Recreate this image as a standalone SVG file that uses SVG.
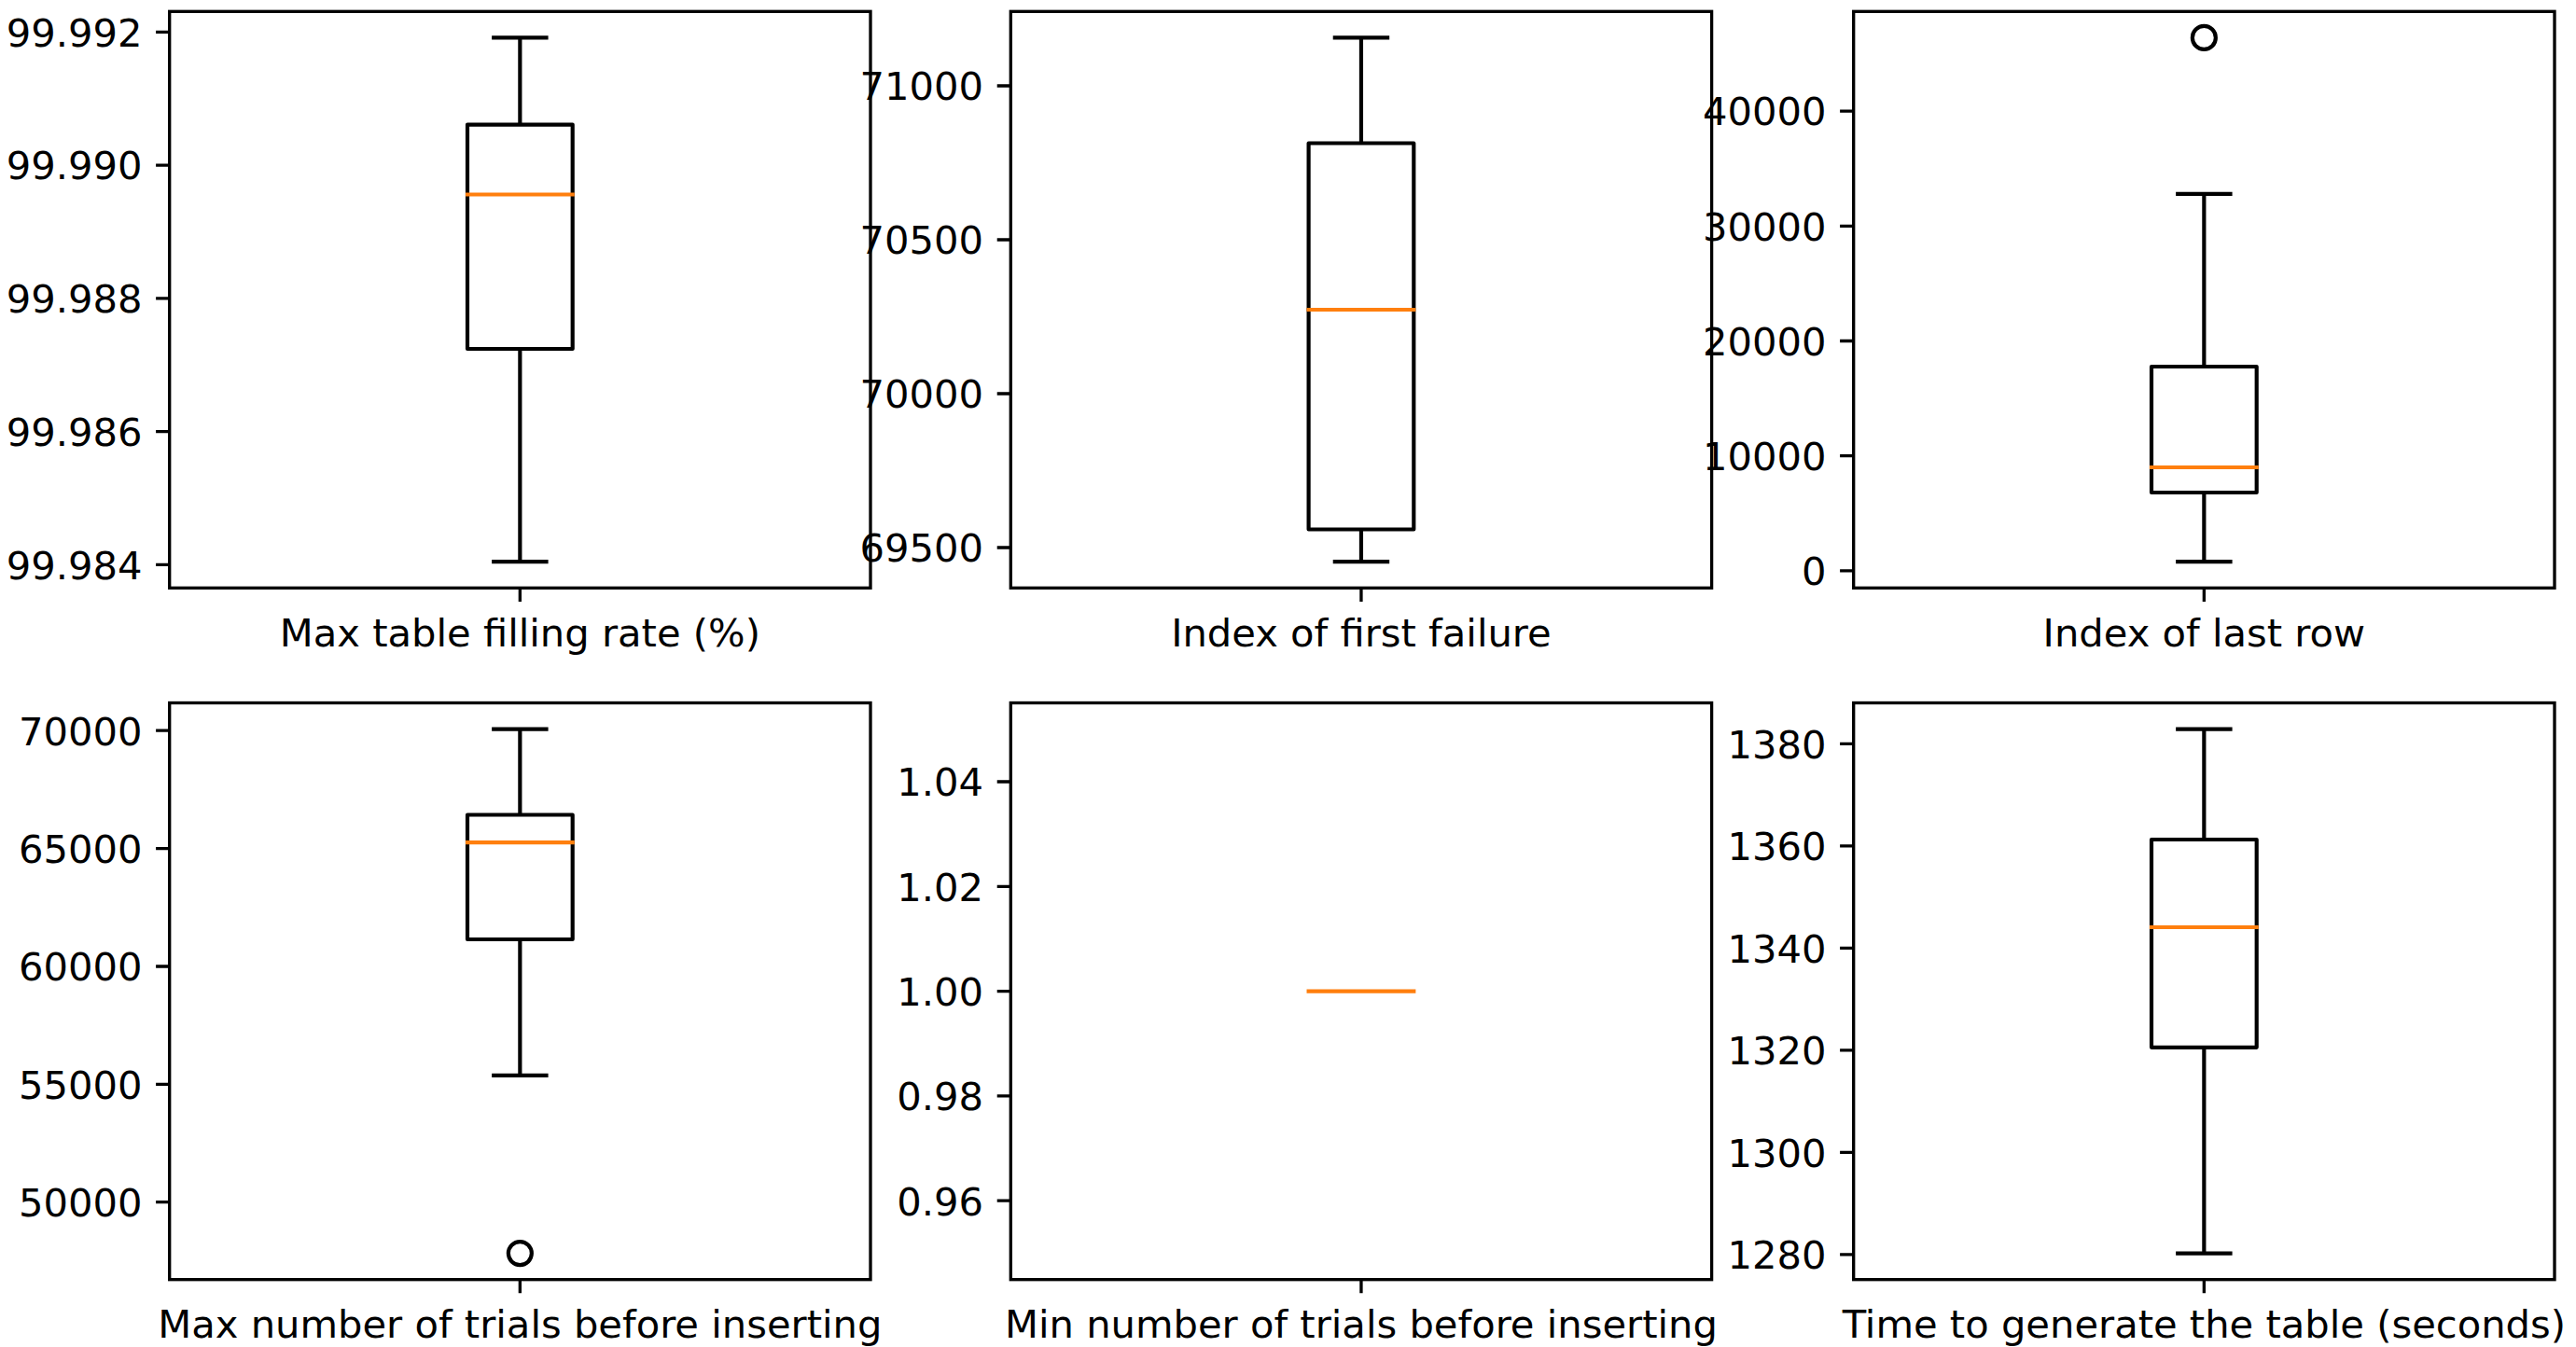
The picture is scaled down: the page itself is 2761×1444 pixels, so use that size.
<svg xmlns="http://www.w3.org/2000/svg" width="2761" height="1444" viewBox="0 0 2761 1444">
<style>
.frame{fill:none;stroke:#000;stroke-width:3.33;stroke-linejoin:miter}
.tick{stroke:#000;stroke-width:3.33}
.bx{fill:none;stroke:#000;stroke-width:4.17;stroke-linecap:square;stroke-linejoin:round}
.med{stroke:#ff7f0e;stroke-width:4.17;stroke-linecap:square}
.fl{fill:none;stroke:#000;stroke-width:4.17}
text{font-family:"DejaVu Sans","Liberation Sans",sans-serif;font-size:41.67px;fill:#000}
.yl{text-anchor:end}
.xl{text-anchor:middle}
</style>
<rect width="2761" height="1444" fill="#fff"/>

<g id="ax1">
<rect class="frame" x="181.7" y="12.3" width="751.3" height="618"/>
<path class="tick" d="M167.1 34.3H181.7M167.1 177.05H181.7M167.1 319.8H181.7M167.1 462.55H181.7M167.1 605.3H181.7M557.35 630.3V644.9"/>
<text class="yl" x="152.5" y="49.6">99.992</text>
<text class="yl" x="152.5" y="192.35">99.990</text>
<text class="yl" x="152.5" y="335.1">99.988</text>
<text class="yl" x="152.5" y="477.85">99.986</text>
<text class="yl" x="152.5" y="620.6">99.984</text>
<path class="bx" d="M557.35 374V602.2M557.35 133.6V40.4M529.2 602.2H585.5M529.2 40.4H585.5M501 374H613.7V133.6H501Z"/>
<path class="med" d="M501 208.5H613.7"/>
<text class="xl" x="557.35" y="692.7">Max table filling rate (%)</text>
</g>

<g id="ax2">
<rect class="frame" x="1083.3" y="12.3" width="751.3" height="618"/>
<path class="tick" d="M1068.7 92H1083.3M1068.7 257H1083.3M1068.7 422H1083.3M1068.7 587H1083.3M1458.95 630.3V644.9"/>
<text class="yl" x="1054.1" y="107.3">71000</text>
<text class="yl" x="1054.1" y="272.3">70500</text>
<text class="yl" x="1054.1" y="437.3">70000</text>
<text class="yl" x="1054.1" y="602.3">69500</text>
<path class="bx" d="M1458.95 567.5V602.2M1458.95 153.5V40.4M1430.8 602.2H1487.1M1430.8 40.4H1487.1M1402.6 567.5H1515.3V153.5H1402.6Z"/>
<path class="med" d="M1402.6 332H1515.3"/>
<text class="xl" x="1458.95" y="692.7">Index of first failure</text>
</g>

<g id="ax3">
<rect class="frame" x="1986.7" y="12.3" width="751.3" height="618"/>
<path class="tick" d="M1972.1 119.1H1986.7M1972.1 242.3H1986.7M1972.1 365.5H1986.7M1972.1 488.7H1986.7M1972.1 611.9H1986.7M2362.35 630.3V644.9"/>
<text class="yl" x="1957.5" y="134.4">40000</text>
<text class="yl" x="1957.5" y="257.6">30000</text>
<text class="yl" x="1957.5" y="380.8">20000</text>
<text class="yl" x="1957.5" y="504">10000</text>
<text class="yl" x="1957.5" y="627.2">0</text>
<path class="bx" d="M2362.35 528V602.2M2362.35 393V207.9M2334.2 602.2H2390.5M2334.2 207.9H2390.5M2306 528H2418.7V393H2306Z"/>
<path class="med" d="M2306 501H2418.7"/>
<circle class="fl" cx="2362.35" cy="40.4" r="12.5"/>
<text class="xl" x="2362.35" y="692.7">Index of last row</text>
</g>

<g id="ax4">
<rect class="frame" x="181.7" y="753.5" width="751.3" height="618.2"/>
<path class="tick" d="M167.1 783.2H181.7M167.1 909.6H181.7M167.1 1036H181.7M167.1 1162.4H181.7M167.1 1288.7H181.7M557.35 1371.7V1386.3"/>
<text class="yl" x="152.5" y="798.5">70000</text>
<text class="yl" x="152.5" y="924.9">65000</text>
<text class="yl" x="152.5" y="1051.3">60000</text>
<text class="yl" x="152.5" y="1177.7">55000</text>
<text class="yl" x="152.5" y="1304">50000</text>
<path class="bx" d="M557.35 1007V1152.8M557.35 873.5V781.6M529.2 1152.8H585.5M529.2 781.6H585.5M501 1007H613.7V873.5H501Z"/>
<path class="med" d="M501 903.1H613.7"/>
<circle class="fl" cx="557.35" cy="1343.6" r="12.5"/>
<text class="xl" x="557.35" y="1433.5">Max number of trials before inserting</text>
</g>

<g id="ax5">
<rect class="frame" x="1083.3" y="753.5" width="751.3" height="618.2"/>
<path class="tick" d="M1068.7 838H1083.3M1068.7 950.3H1083.3M1068.7 1062.6H1083.3M1068.7 1174.9H1083.3M1068.7 1287.2H1083.3M1458.95 1371.7V1386.3"/>
<text class="yl" x="1054.1" y="853.3">1.04</text>
<text class="yl" x="1054.1" y="965.6">1.02</text>
<text class="yl" x="1054.1" y="1077.9">1.00</text>
<text class="yl" x="1054.1" y="1190.2">0.98</text>
<text class="yl" x="1054.1" y="1302.5">0.96</text>
<path class="med" d="M1402.6 1062.6H1515.3"/>
<text class="xl" x="1458.95" y="1433.5">Min number of trials before inserting</text>
</g>

<g id="ax6">
<rect class="frame" x="1986.7" y="753.5" width="751.3" height="618.2"/>
<path class="tick" d="M1972.1 797.4H1986.7M1972.1 906.9H1986.7M1972.1 1016.4H1986.7M1972.1 1125.9H1986.7M1972.1 1235.4H1986.7M1972.1 1344.9H1986.7M2362.35 1371.7V1386.3"/>
<text class="yl" x="1957.5" y="812.7">1380</text>
<text class="yl" x="1957.5" y="922.2">1360</text>
<text class="yl" x="1957.5" y="1031.7">1340</text>
<text class="yl" x="1957.5" y="1141.2">1320</text>
<text class="yl" x="1957.5" y="1250.7">1300</text>
<text class="yl" x="1957.5" y="1360.2">1280</text>
<path class="bx" d="M2362.35 1122.8V1343.6M2362.35 900V781.6M2334.2 1343.6H2390.5M2334.2 781.6H2390.5M2306 1122.8H2418.7V900H2306Z"/>
<path class="med" d="M2306 994H2418.7"/>
<text class="xl" x="2362.35" y="1433.5">Time to generate the table (seconds)</text>
</g>

<g id="connectors"></g>
</svg>
